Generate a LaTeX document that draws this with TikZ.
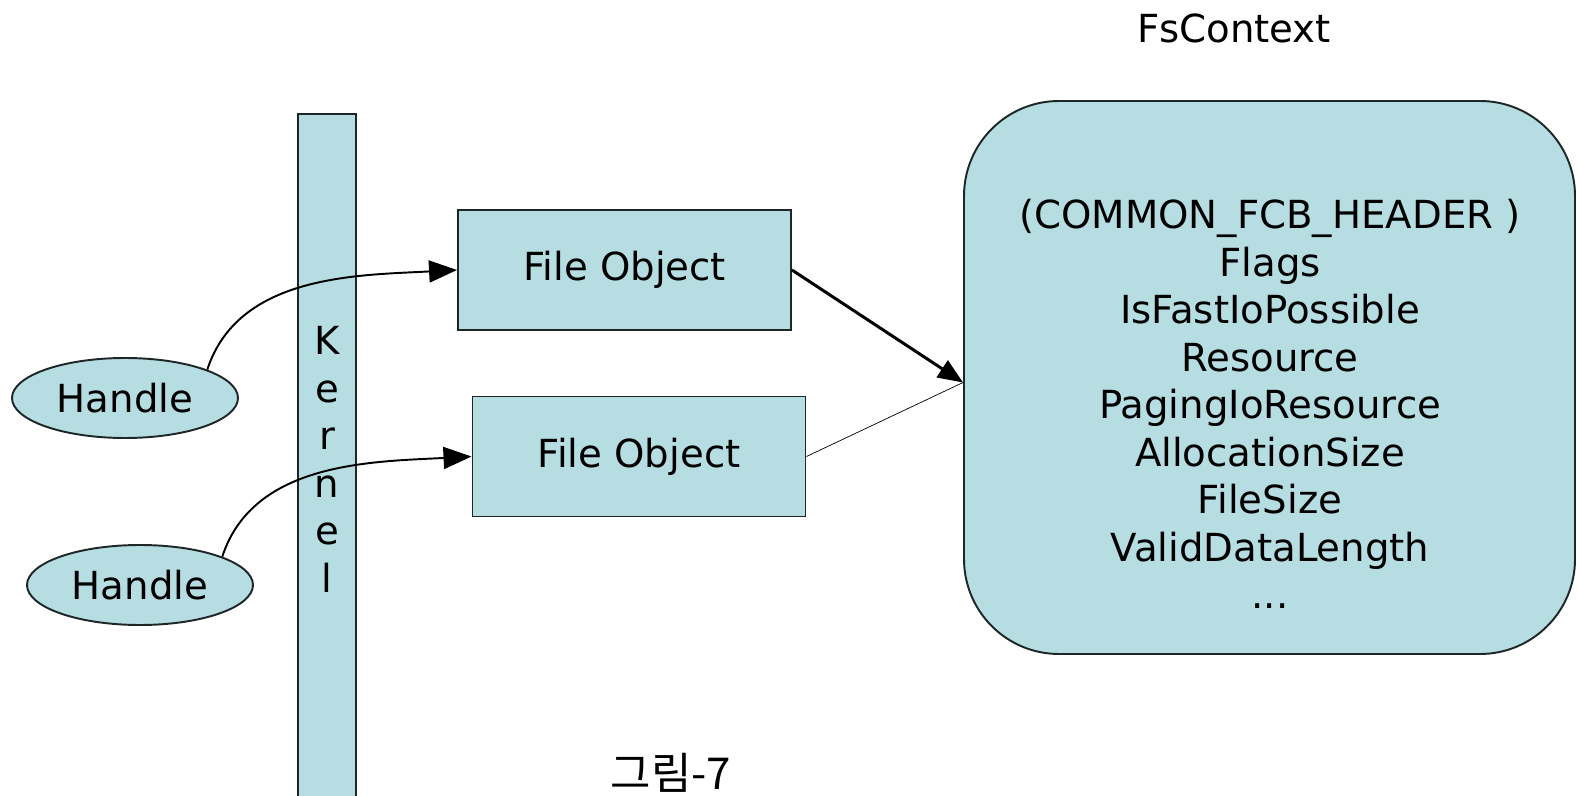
\documentclass[tikz,border=0pt]{standalone}
\usepackage{fontspec}
\setmainfont{DejaVu Sans}
\newfontfamily\krfont{Noto Sans CJK KR}
\usetikzlibrary{shapes.geometric,arrows.meta}
\definecolor{boxfill}{RGB}{182,222,226}
\definecolor{boxline}{RGB}{30,38,40}

\begin{document}
\begin{tikzpicture}[
    font=\fontsize{22}{27}\selectfont,
    obj/.style={draw=boxline, line width=1.1pt, fill=boxfill, minimum width=6.66cm, minimum height=2.4cm, inner sep=0pt},
    handle/.style={ellipse, draw=boxline, line width=1.1pt, fill=boxfill, minimum width=4.52cm, minimum height=1.6cm, inner sep=0pt},
    ctx/.style={draw=boxline, line width=1.1pt, fill=boxfill, rounded corners=1.9cm, minimum width=12.22cm, minimum height=11.06cm},
    curve/.style={line width=1.1pt, -{Triangle[length=0.56cm, width=0.44cm]}},
    link/.style={line width=1.7pt, -{Triangle[length=0.5cm, width=0.4cm]}}
]
\useasboundingbox (0,0) rectangle (31.56,15.9);

% Kernel bar
\node[obj, minimum width=1.16cm, minimum height=13.82cm, align=center] (kernel) at (6.54,6.71) {K\\e\\r\\n\\e\\l};

% file objects
\node[obj] (fo1) at (12.49,10.5) {File Object};
\node[obj] (fo2) at (12.78,6.77) {File Object};

% handles
\node[handle] (handle1) at (2.5,7.94) {Handle};
\node[handle] (handle2) at (2.8,4.2) {Handle};

% FsContext
\node (fstitle) at (24.68,15.34) {FsContext};
\node[ctx] (fs) at (25.39,8.35) {};
\node[align=center] (fsfields) at (25.4,7.82) {
    (COMMON\_FCB\_HEADER )\\
    Flags\\
    IsFastIoPossible\\
    Resource\\
    PagingIoResource\\
    AllocationSize\\
    FileSize\\
    ValidDataLength\\
    ...
};

% connectors
\draw[curve] (handle1.19) to[out=72, in=183, looseness=0.95] (fo1.west);
\draw[curve] (handle2.19) to[out=72, in=183, looseness=0.95] (fo2.west);
\draw[line width=0.4pt] (fo2.east) -- ([yshift=-0.1cm]fs.west);
\draw[link] (fo1.east) -- ([yshift=-0.1cm]fs.west);

% caption
\node[font=\krfont\fontsize{25}{30}\selectfont, anchor=base] (caption) at (13.42,0.12) {그림-7};

\end{tikzpicture}
\end{document}
